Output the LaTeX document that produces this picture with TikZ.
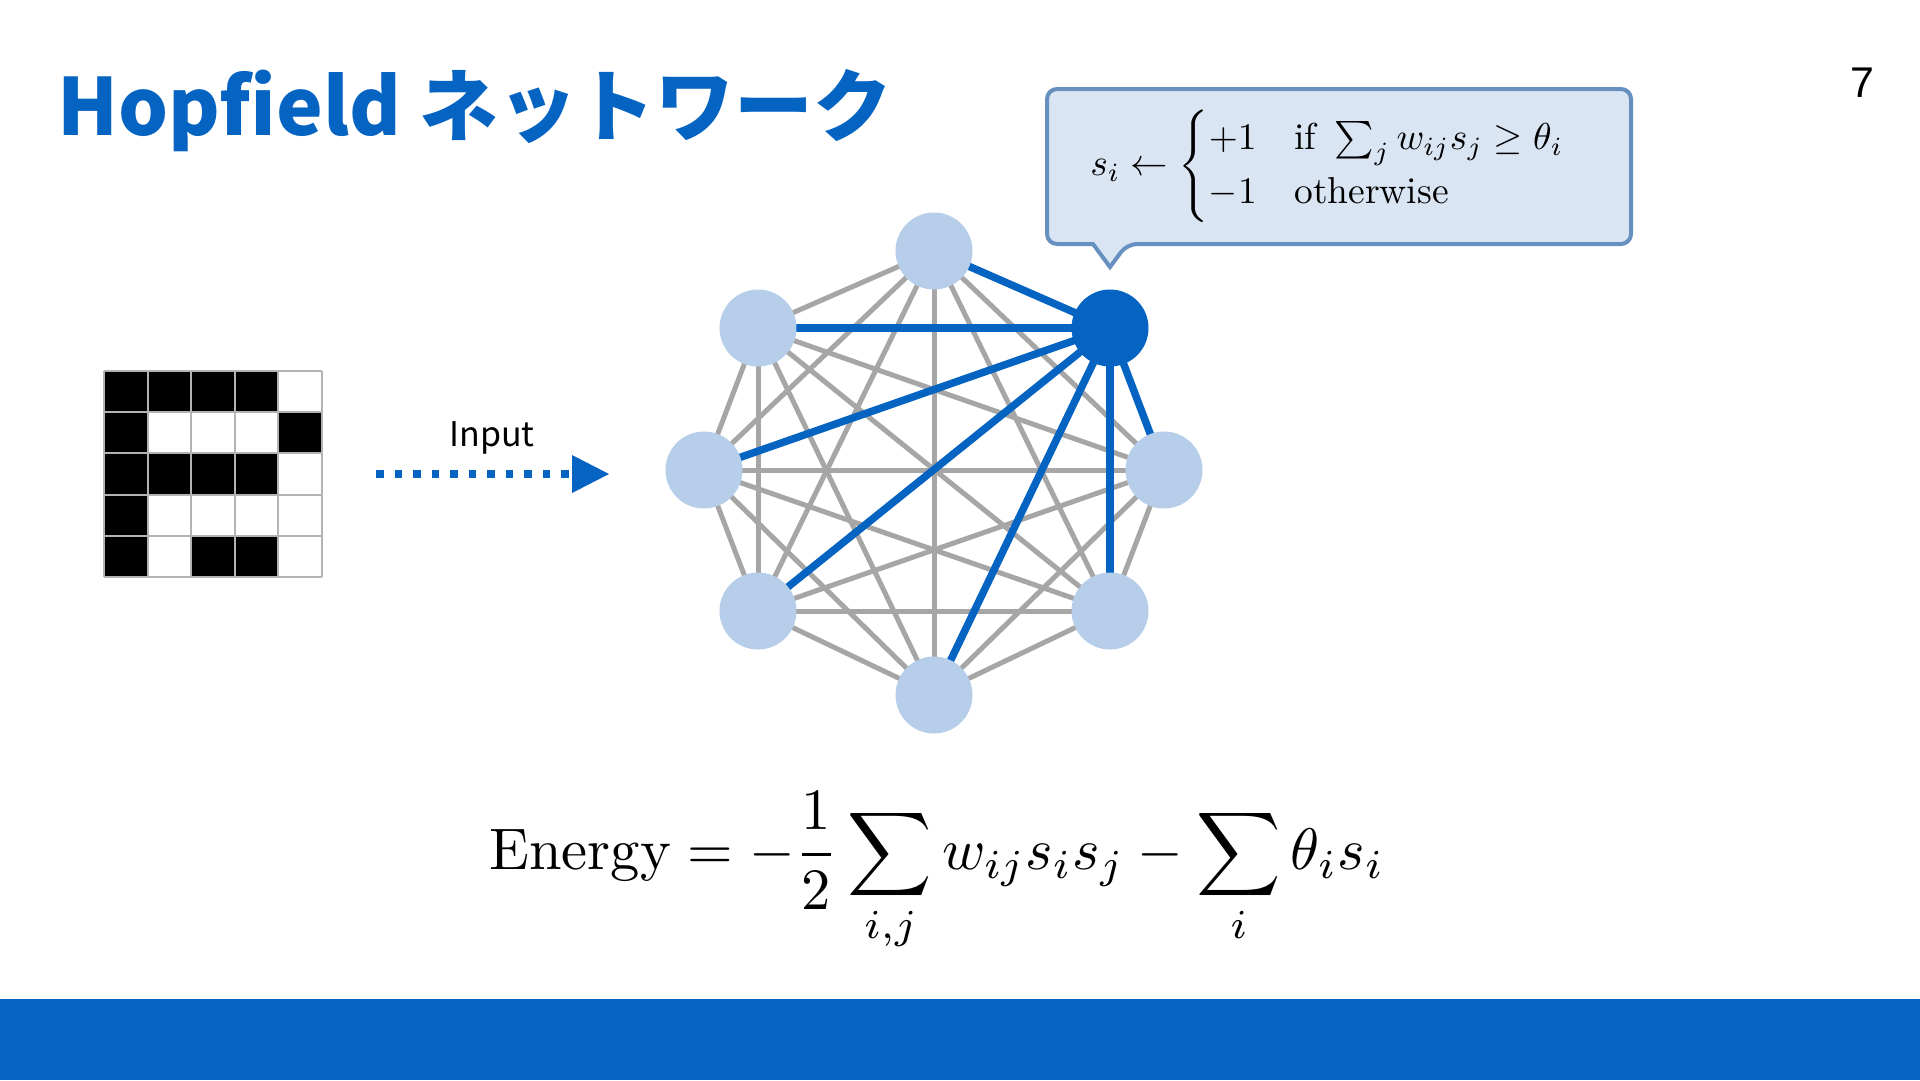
\documentclass[tikz,border=0pt]{standalone}
\usepackage{amsmath}
\usepackage{graphicx}
\usepackage{fontspec}
\newfontfamily\cjkfont{Noto Sans CJK JP}
\newfontfamily\numfont{Liberation Sans}
\definecolor{hblue}{HTML}{0563C1}
\definecolor{nodelight}{HTML}{B7CEEA}
\definecolor{edgegray}{HTML}{A6A6A6}
\definecolor{callfill}{HTML}{DAE5F4}
\definecolor{callborder}{HTML}{6590C0}
\definecolor{gridgray}{HTML}{B3B3B3}
\pgfdeclarelayer{background}
\pgfsetlayers{background,main}
\tikzset{
  neuron/.style={circle, fill=nodelight, minimum size=77pt, inner sep=0pt, outer sep=0pt},
  active/.style={neuron, fill=hblue},
  grayedge/.style={draw=edgegray, line width=5pt},
  blueedge/.style={draw=hblue, line width=7.5pt},
  gridline/.style={draw=gridgray, line width=2pt},
  inputarrow/.style={draw=hblue, line width=7.5pt, dash pattern=on 7.5pt off 11pt},
}
\begin{document}
\begin{tikzpicture}[x=1pt,y=-1pt]
\useasboundingbox (0,0) rectangle (1920,1080);
\begin{pgfonlayer}{background}
\fill[white] (0,0) rectangle (1920,1080);
\end{pgfonlayer}
% bottom bar
\fill[hblue] (0,999) rectangle (1920,1080);
% title
\node[anchor=base west, text=hblue, font=\cjkfont\bfseries\fontsize{78.8}{94}\selectfont, inner sep=0pt] (title) at (57,135) {Hopfield ネットワーク};
% page number
\node[anchor=base, font=\numfont\fontsize{43}{50}\selectfont, inner sep=0pt] (page) at (1862,97) {7};
% grid
\foreach \c/\r in {0/0,1/0,2/0,3/0, 0/1,4/1, 0/2,1/2,2/2,3/2, 0/3, 0/4,2/4,3/4}{
  \fill[black] ({104+43.6*\c},{371+41.2*\r}) rectangle ++(43.6,41.2);
}
\foreach \i in {0,...,5}{
  \draw[gridline] ({104+43.6*\i},371) -- ++(0,206);
  \draw[gridline] (104,{371+41.2*\i}) -- ++(218,0);
}
% input arrow
\coordinate (arrS) at (376,474);
\coordinate (arrE) at (572,474);
\coordinate (arrT) at (609,474);
\draw[inputarrow] (arrS) -- (arrE);
\fill[hblue] (572,455) -- (arrT) -- (572,493) -- cycle;
\node[font=\cjkfont\fontsize{34}{40}\selectfont] (inp) at (492,438) {Input};
% network nodes
\node[neuron] (n1) at (934,251) {};
\node[neuron] (n2) at (758,328) {};
\node[active] (n3) at (1110,328) {};
\node[neuron] (n4) at (704,470) {};
\node[neuron] (n5) at (1164,470) {};
\node[neuron] (n6) at (758,611) {};
\node[neuron] (n7) at (1110,611) {};
\node[neuron] (n8) at (934,695) {};
\begin{pgfonlayer}{background}
\foreach \a/\b in {1/2,1/4,1/5,1/6,1/7,1/8,2/4,2/5,2/6,2/7,2/8,4/5,4/6,4/7,4/8,5/6,5/7,5/8,6/7,6/8,7/8}{
  \draw[grayedge] (n\a.center) -- (n\b.center);
}
\foreach \b in {1,2,4,5,6,7,8}{
  \draw[blueedge] (n3.center) -- (n\b.center);
}
\end{pgfonlayer}
% callout
\draw[callborder, fill=callfill, line width=4pt, rounded corners=10pt]
  (1047,89) -- (1631,89) -- (1631,244) -- (1127,244) [sharp corners] -- (1110,267) -- (1093,244) [rounded corners=10pt] -- (1047,244) -- cycle;
\node (rule) at (1329,166) {\scalebox{3.75}{$s_i \leftarrow \begin{cases} +1 & \text{if } \sum_j w_{ij}s_j \ge \theta_i \\ -1 & \text{otherwise}\end{cases}$}};
% energy
\node (energy) at (937,872) {\scalebox{5.86}{$\displaystyle \mathrm{Energy} = -\frac{1}{2}\sum_{i,j} w_{ij}s_is_j - \sum_i \theta_i s_i$}};
\end{tikzpicture}
\end{document}
